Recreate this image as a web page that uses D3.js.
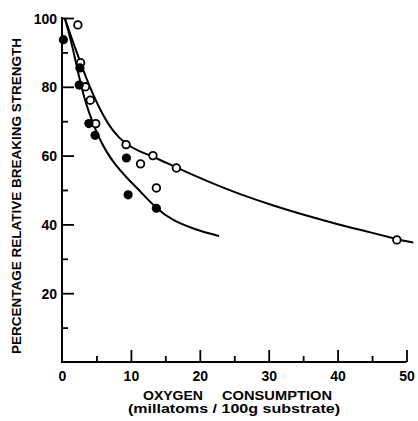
<!DOCTYPE html>
<html>
<head>
<meta charset="utf-8">
<script src="https://cdn.jsdelivr.net/npm/d3@7"></script>
<style>
  body { margin: 0; background: #fff; }
  svg text { font-family: "Liberation Sans", Arial, sans-serif; font-weight: bold; fill: #000; }
</style>
</head>
<body>
<div id="chart-area"><svg></svg></div>
<script>
const chartSize = { width: 418, height: 421 };

// x ticks and y ticks
const xTicks = [0, 10, 20, 30, 40, 50];
const xMinorTicks = [5, 15, 25, 35, 45];
const yTicks = [20, 40, 60, 80, 100];
const yMinorTicks = [10, 30, 50, 70, 90];

// open circles
const openX = [2.3, 2.7, 3.4, 4.1, 4.9, 9.3, 11.4, 13.2, 13.7, 16.6, 48.6];
const openY = [98, 87, 80, 76.1, 69.3, 63.2, 57.6, 60, 50.6, 56.4, 35.5];

// filled circles
const filledX = [0.2, 2.6, 2.5, 3.9, 4.8, 9.35, 9.6, 13.7];
const filledY = [93.7, 85.5, 80.5, 69.3, 65.9, 59.3, 48.6, 44.7];

// fitted curves
const upperX = [0.4, 1.5, 2.6, 3.5, 5.3, 7.4, 9.3, 11.2, 13.3, 16.8, 20.9, 25.7, 31.5, 34.4, 40, 45, 48.6, 51];
const upperY = [100, 93.5, 87.5, 82.5, 74, 66.8, 63.3, 61.2, 59.7, 56.3, 52.7, 48.8, 44.9, 43.2, 40, 37.6, 35.7, 34.7];
const lowerX = [0.4, 1.5, 2.5, 3.4, 4.4, 5.4, 6.4, 7.6, 9.5, 11.3, 13.5, 16.1, 19.5, 22.8];
const lowerY = [100, 92, 82.5, 75.5, 69.8, 65, 61.3, 57.6, 53.3, 49.8, 44.9, 41, 38.4, 36.6];

const x = d3.scaleLinear().domain([0, 50]).range([62, 406.5]);
const y = d3.scaleLinear().domain([0, 100]).range([362, 18]);

const svg = d3.select('#chart-area svg')
  .attr('width', chartSize.width)
  .attr('height', chartSize.height);

const styleAxis = (g) => {
  g.select('.domain').remove();
  g.selectAll('line').attr('stroke', '#000').attr('stroke-width', 1.8);
  g.selectAll('text').attr('font-size', 14).attr('fill', '#000');
};

// y axis, ticks point inward
svg.append('g')
  .attr('transform', `translate(${x(0)},0)`)
  .call(d3.axisLeft(y).tickValues(yTicks).tickSizeInner(-12).tickSizeOuter(0).tickPadding(5))
  .call(styleAxis)
  .call(g => g.selectAll('text').attr('dy', '0.36em'));

svg.append('g')
  .attr('transform', `translate(${x(0)},0)`)
  .call(d3.axisLeft(y).tickValues(yMinorTicks).tickSize(-6).tickFormat(''))
  .call(styleAxis);

// x axis, ticks point up
svg.append('g')
  .attr('transform', `translate(0,${y(0)})`)
  .call(d3.axisBottom(x).tickValues(xTicks).tickSizeInner(-12).tickSizeOuter(0).tickPadding(6))
  .call(styleAxis)
  .call(g => g.selectAll('text').attr('y', 19).attr('dy', 0))
  .call(g => g.selectAll('.tick').filter(d => d === 0).select('line').remove());

svg.append('g')
  .attr('transform', `translate(0,${y(0)})`)
  .call(d3.axisBottom(x).tickValues(xMinorTicks).tickSize(-6).tickFormat(''))
  .call(styleAxis);

// axis lines
svg.append('line')
  .attr('x1', x(0)).attr('x2', x(0))
  .attr('y1', y(0) + 1).attr('y2', y(100) - 1)
  .attr('stroke', '#000').attr('stroke-width', 2);

svg.append('line')
  .attr('x1', x(0) - 1).attr('x2', x(50))
  .attr('y1', y(0)).attr('y2', y(0))
  .attr('stroke', '#000').attr('stroke-width', 2);

// curves
const line = d3.line()
  .x(d => x(d[0]))
  .y(d => y(d[1]))
  .curve(d3.curveBasis);

const upper = d3.zip(upperX, upperY);
const lower = d3.zip(lowerX, lowerY);

svg.selectAll('path.curve')
  .data([upper, lower])
  .enter()
  .append('path')
  .attr('class', 'curve')
  .attr('d', line)
  .attr('fill', 'none')
  .attr('stroke', '#000')
  .attr('stroke-width', 2);

// points
svg.selectAll('circle.open')
  .data(d3.zip(openX, openY))
  .enter()
  .append('circle')
  .attr('class', 'open')
  .attr('cx', d => x(d[0]))
  .attr('cy', d => y(d[1]))
  .attr('r', 3.8)
  .attr('fill', '#fff')
  .attr('stroke', '#000')
  .attr('stroke-width', 1.8);

svg.selectAll('circle.filled')
  .data(d3.zip(filledX, filledY))
  .enter()
  .append('circle')
  .attr('class', 'filled')
  .attr('cx', d => x(d[0]))
  .attr('cy', d => y(d[1]))
  .attr('r', 4.6)
  .attr('fill', '#000');

// axis titles
svg.append('text')
  .attr('transform', 'translate(21,196) rotate(-90)')
  .attr('text-anchor', 'middle')
  .attr('font-size', 12.5)
  .attr('textLength', 316)
  .attr('lengthAdjust', 'spacingAndGlyphs')
  .text('PERCENTAGE RELATIVE BREAKING STRENGTH');

svg.append('text')
  .attr('x', 143).attr('y', 400)
  .attr('font-size', 12.5)
  .attr('textLength', 60)
  .attr('lengthAdjust', 'spacingAndGlyphs')
  .text('OXYGEN');

svg.append('text')
  .attr('x', 222).attr('y', 400)
  .attr('font-size', 12.5)
  .attr('textLength', 110)
  .attr('lengthAdjust', 'spacingAndGlyphs')
  .text('CONSUMPTION');

svg.append('text')
  .attr('x', 128).attr('y', 413)
  .attr('font-size', 12.5)
  .attr('textLength', 212)
  .attr('lengthAdjust', 'spacingAndGlyphs')
  .text('(millatoms / 100g substrate)');
</script>
</body>
</html>
